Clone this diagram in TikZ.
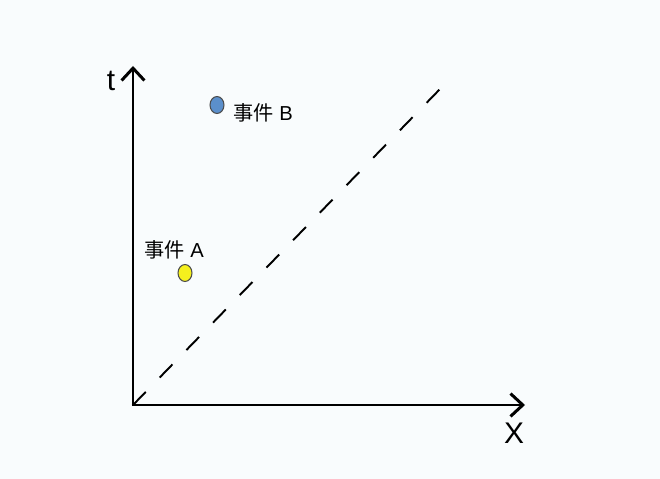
\documentclass[tikz,border=0pt]{standalone}
\usepackage{fontspec}
\setmainfont{Liberation Sans}
\newfontfamily\cjk{Noto Sans CJK SC}
\usetikzlibrary{arrows.meta,shapes.geometric}
\definecolor{bgcol}{HTML}{F9FCFD}
\definecolor{dotblue}{HTML}{5B8FCB}
\definecolor{dotyellow}{HTML}{F5F01E}
\begin{document}
\begin{tikzpicture}[x=0.02cm,y=-0.02cm,
	axis/.style={line width=1.7pt,-{Straight Barb[length=7pt,width=13pt,line width=1.7pt]}},
	lightline/.style={line width=1.1pt,dash pattern=on 10.4pt off 11.4pt},
	event/.style={ellipse,draw=black!70,line width=0.6pt,minimum width=14*0.02cm,minimum height=17*0.02cm,inner sep=0},
	lbl/.style={inner sep=0,font=\fontsize{11.5pt}{13pt}\selectfont},
	axlbl/.style={inner sep=0,font=\fontsize{17pt}{19pt}\selectfont}]
\fill[bgcol] (0,0) rectangle (660,479);
\coordinate (origin) at (133,405);
\coordinate (tTop) at (133,66);
\coordinate (xEnd) at (525,405);
\coordinate (lightEnd) at (441,88);
\draw[axis] (origin) -- (tTop);
\draw[axis] ([xshift=-0.85pt]origin) -- (xEnd);
\draw[lightline] (origin) -- (lightEnd);
\node[axlbl] (tLbl) at (111,81) {t};
\node[axlbl] (xLbl) at (514,433) {X};
\node[event,fill=dotblue] (eventB) at (217,105) {};
\node[lbl,anchor=west] (eventBLbl) at (233,113) {{\cjk 事件} B};
\node[event,fill=dotyellow] (eventA) at (185,273) {};
\node[lbl,anchor=west] (eventALbl) at (144,250) {{\cjk 事件} A};
\end{tikzpicture}
\end{document}
